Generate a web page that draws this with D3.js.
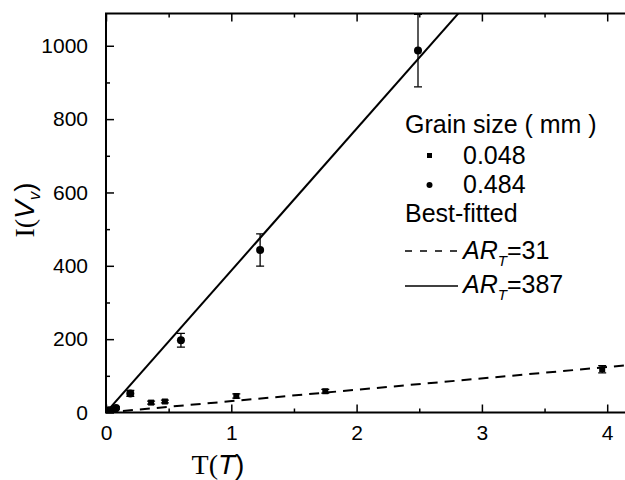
<!DOCTYPE html>
<html>
<head>
<meta charset="utf-8">
<script src="https://cdn.jsdelivr.net/npm/d3@7"></script>
<style>
  body { margin: 0; background: #fff; }
  svg { display: block; font-family: "Liberation Sans", Arial, sans-serif; }
</style>
</head>
<body>
<script>
// grain size 0.048 mm (squares)
const fineX = [0.024, 0.07, 0.36, 0.47, 1.04, 1.75, 3.96];
const fineY = [3, 8, 27, 30, 45, 58, 118];
const fineErr = [2, 3, 4, 4, 6, 5, 10];
// grain size 0.484 mm (circles)
const coarseX = [0.024, 0.08, 0.194, 0.598, 1.23, 2.49];
const coarseY = [6, 12, 52, 197, 443, 987];
const coarseErr = [2, 3, 8, 19, 44, 99];
// best-fitted slopes
const fitSlopes = [31, 387];
const xTicks = [0, 1, 2, 3, 4];
const yTicks = [0, 200, 400, 600, 800, 1000];

const width = 625, height = 480;
const padLeft = 106, padTop = 13.5, padBottom = 412.5, padRight = 626;

const svg = d3.select('body').append('svg')
    .attr('width', width)
    .attr('height', height);

const x = d3.scaleLinear().domain([0, 4.15]).range([padLeft, padRight]);
const y = d3.scaleLinear().domain([0, 1088]).range([padBottom, padTop]);

svg.append('defs').append('clipPath').attr('id', 'plot')
    .append('rect')
    .attr('x', padLeft).attr('y', padTop)
    .attr('width', padRight - padLeft).attr('height', padBottom - padTop);

// axes, ticks inward
const xMinor = d3.range(0.5, 4.15, 1);
const yMinor = d3.range(100, 1088, 200);

function styleAxis(g) {
    g.select('.domain').remove();
    g.selectAll('line').attr('stroke', '#000').attr('stroke-width', 1.5);
    g.selectAll('text').attr('font-size', 21).attr('fill', '#000')
        .attr('font-family', '"Liberation Sans", Arial, sans-serif');
}

svg.append('g')
    .attr('transform', `translate(0,${padBottom})`)
    .call(d3.axisBottom(x).tickValues(xTicks).tickSizeInner(-8).tickSizeOuter(0).tickPadding(13).tickFormat(d3.format('d')))
    .call(styleAxis);
svg.append('g')
    .attr('transform', `translate(0,${padBottom})`)
    .call(d3.axisBottom(x).tickValues(xMinor).tickSizeInner(-4).tickSizeOuter(0).tickFormat(''))
    .call(styleAxis);
svg.append('g')
    .attr('transform', `translate(0,${padTop})`)
    .call(d3.axisTop(x).tickValues(xTicks).tickSizeInner(-8).tickSizeOuter(0).tickFormat(''))
    .call(styleAxis);
svg.append('g')
    .attr('transform', `translate(0,${padTop})`)
    .call(d3.axisTop(x).tickValues(xMinor).tickSizeInner(-4).tickSizeOuter(0).tickFormat(''))
    .call(styleAxis);
svg.append('g')
    .attr('transform', `translate(${padLeft},0)`)
    .call(d3.axisLeft(y).tickValues(yTicks).tickSizeInner(-8).tickSizeOuter(0).tickPadding(18).tickFormat(d3.format('d')))
    .call(styleAxis);
svg.append('g')
    .attr('transform', `translate(${padLeft},0)`)
    .call(d3.axisLeft(y).tickValues(yMinor).tickSizeInner(-4).tickSizeOuter(0).tickFormat(''))
    .call(styleAxis);

// frame
svg.append('path')
    .attr('d', `M${padRight},${padTop}H${padLeft}V${padBottom}H${padRight}`)
    .attr('fill', 'none').attr('stroke', '#000').attr('stroke-width', 2);

// fitted lines
const plot = svg.append('g').attr('clip-path', 'url(#plot)');
fitSlopes.forEach((k, i) => {
    plot.append('line')
        .attr('x1', x(0)).attr('y1', y(0))
        .attr('x2', x(4.15)).attr('y2', y(k * 4.15))
        .attr('stroke', '#000').attr('stroke-width', 2)
        .attr('stroke-dasharray', i === 0 ? '10,7' : null);
});

// error bars
function errorBars(xs, ys, es) {
    xs.forEach((xv, i) => {
        const cx = x(xv), y1 = y(ys[i] + es[i]), y2 = y(ys[i] - es[i]);
        const g = plot.append('g').attr('stroke', '#000').attr('stroke-width', 1.3);
        g.append('line').attr('x1', cx).attr('x2', cx).attr('y1', y1).attr('y2', y2);
        g.append('line').attr('x1', cx - 4).attr('x2', cx + 4).attr('y1', y1).attr('y2', y1);
        g.append('line').attr('x1', cx - 4).attr('x2', cx + 4).attr('y1', y2).attr('y2', y2);
    });
}
errorBars(fineX, fineY, fineErr);
errorBars(coarseX, coarseY, coarseErr);

plot.selectAll('rect.fine')
    .data(fineX)
    .enter().append('rect')
    .attr('class', 'fine')
    .attr('x', (d) => x(d) - 3)
    .attr('y', (d, i) => y(fineY[i]) - 3)
    .attr('width', 6).attr('height', 6)
    .attr('fill', '#000');

plot.selectAll('circle.coarse')
    .data(coarseX)
    .enter().append('circle')
    .attr('class', 'coarse')
    .attr('cx', (d) => x(d))
    .attr('cy', (d, i) => y(coarseY[i]))
    .attr('r', 4)
    .attr('fill', '#000');

// legend
const lg = svg.append('g').attr('font-size', 25).attr('fill', '#000');
lg.append('text').attr('x', 405).attr('y', 133).text('Grain size ( mm )');
lg.append('rect').attr('x', 427).attr('y', 153).attr('width', 5).attr('height', 5);
lg.append('text').attr('x', 463).attr('y', 164).text('0.048');
lg.append('circle').attr('cx', 429.5).attr('cy', 185).attr('r', 3);
lg.append('text').attr('x', 463).attr('y', 193).text('0.484');
lg.append('text').attr('x', 405).attr('y', 222).text('Best-fitted');
lg.append('line').attr('x1', 405).attr('x2', 460).attr('y1', 251).attr('y2', 251)
    .attr('stroke', '#000').attr('stroke-width', 1.3).attr('stroke-dasharray', '7,8');
lg.append('line').attr('x1', 405).attr('x2', 458).attr('y1', 286).attr('y2', 286)
    .attr('stroke', '#000').attr('stroke-width', 1.5);
fitSlopes.forEach((k, i) => {
    const t = lg.append('text').attr('x', 463).attr('y', i === 0 ? 259 : 293);
    t.append('tspan').attr('font-style', 'italic').text('AR');
    t.append('tspan').attr('font-style', 'italic').attr('font-size', 15).attr('dy', 7).text('T');
    t.append('tspan').attr('dy', -7).text('=' + k);
});

// axis titles
const xt = svg.append('text').attr('x', 218).attr('y', 474).attr('text-anchor', 'middle').attr('font-size', 28);
xt.append('tspan').attr('font-family', '"Liberation Serif", serif').text('T(');
xt.append('tspan').attr('font-style', 'italic').text('T');
xt.append('tspan').text(')');

const yt = svg.append('text').attr('transform', 'translate(34,210) rotate(-90)')
    .attr('text-anchor', 'middle').attr('font-size', 28);
yt.append('tspan').attr('font-family', '"Liberation Serif", serif').text('I(');
yt.append('tspan').attr('font-style', 'italic').text('V');
yt.append('tspan').attr('font-style', 'italic').attr('font-size', 17).attr('dy', 6).text('v');
yt.append('tspan').attr('dy', -6).text(')');
</script>
</body>
</html>
